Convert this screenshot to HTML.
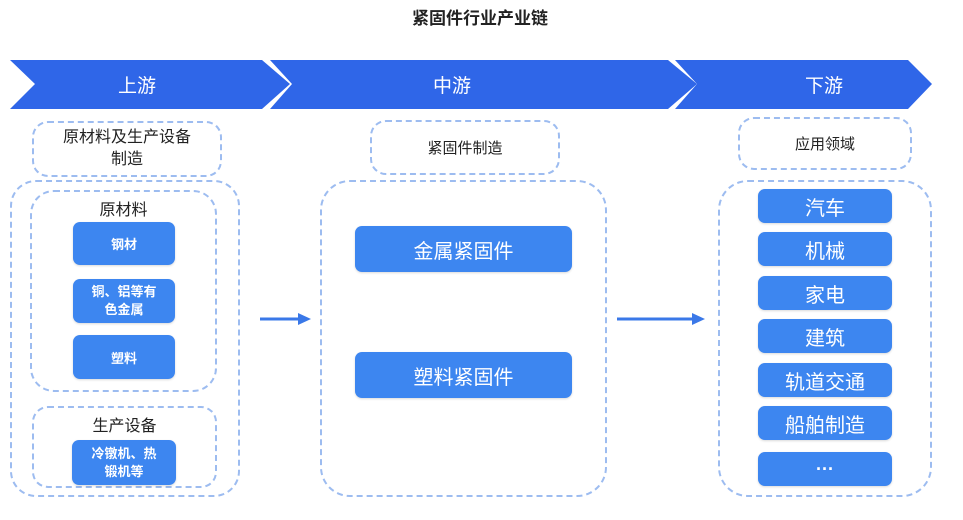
<!DOCTYPE html>
<html><head><meta charset="utf-8"><style>
body{margin:0;width:963px;height:520px;background:#fff;position:relative;overflow:hidden;font-family:"Liberation Sans","Noto Sans CJK SC",sans-serif}
.a{position:absolute;box-sizing:border-box}
.d{border:2px dashed #9dbcf0;border-radius:16px}
.b{background:#3d86f0;border-radius:7px;color:#fff;display:flex;align-items:center;justify-content:center;text-align:center;box-shadow:0 1px 2px rgba(0,0,0,.15)}
.t{display:flex;align-items:center;justify-content:center;text-align:center;color:#222}
</style></head><body>
<div class="a t" style="left:330px;top:2px;width:300px;height:28px;font-size:17px;font-weight:bold">紧固件行业产业链</div>
<svg class="a" style="left:0;top:0" width="963" height="520">
<polygon points="10,60 262,60 290,84 262,109 10,109 35,84" fill="#2f66e8"/>
<polygon points="270,60 668,60 697,84 668,109 270,109 292,84" fill="#2f66e8"/>
<polygon points="675,60 908,60 932,84 908,109 675,109 697,84" fill="#2f66e8"/>
<text x="118" y="92" fill="#fff" font-size="19" font-family="Liberation Sans,Noto Sans CJK SC,sans-serif">上游</text>
<text x="433" y="92" fill="#fff" font-size="19" font-family="Liberation Sans,Noto Sans CJK SC,sans-serif">中游</text>
<text x="805" y="92" fill="#fff" font-size="19" font-family="Liberation Sans,Noto Sans CJK SC,sans-serif">下游</text>
<line x1="260" y1="319" x2="300" y2="319" stroke="#3a78e8" stroke-width="3"/>
<polygon points="298,313 311,319 298,325" fill="#3a78e8"/>
<line x1="617" y1="319" x2="694" y2="319" stroke="#3a78e8" stroke-width="3"/>
<polygon points="692,313 705,319 692,325" fill="#3a78e8"/>
</svg>
<div class="a d t" style="left:32px;top:121px;width:190px;height:56px;font-size:16px;line-height:22px">原材料及生产设备<br>制造</div>
<div class="a d" style="left:10px;top:180px;width:230px;height:317px;border-radius:26px"></div>
<div class="a d" style="left:30px;top:190px;width:187px;height:202px;border-radius:24px"></div>
<div class="a t" style="left:30px;top:196px;width:187px;height:24px;font-size:16px">原材料</div>
<div class="a b" style="left:73px;top:222px;width:102px;height:43px;font-size:13px;font-weight:bold">钢材</div>
<div class="a b" style="left:73px;top:279px;width:102px;height:44px;font-size:13px;font-weight:bold;line-height:18px">铜、铝等有<br>色金属</div>
<div class="a b" style="left:73px;top:335px;width:102px;height:44px;font-size:13px;font-weight:bold">塑料</div>
<div class="a d" style="left:32px;top:406px;width:185px;height:82px"></div>
<div class="a t" style="left:32px;top:412px;width:185px;height:24px;font-size:16px">生产设备</div>
<div class="a b" style="left:72px;top:440px;width:104px;height:45px;font-size:13px;font-weight:bold;line-height:18px">冷镦机、热<br>锻机等</div>
<div class="a d t" style="left:370px;top:120px;width:190px;height:55px;font-size:15px">紧固件制造</div>
<div class="a d" style="left:320px;top:180px;width:287px;height:317px;border-radius:30px"></div>
<div class="a b" style="left:355px;top:226px;width:217px;height:46px;font-size:20px">金属紧固件</div>
<div class="a b" style="left:355px;top:352px;width:217px;height:46px;font-size:20px">塑料紧固件</div>
<div class="a d t" style="left:738px;top:117px;width:174px;height:53px;font-size:15px">应用领域</div>
<div class="a d" style="left:718px;top:180px;width:214px;height:317px;border-radius:30px"></div>
<div class="a b" style="left:758px;top:189px;width:134px;height:34px;font-size:20px">汽车</div>
<div class="a b" style="left:758px;top:232px;width:134px;height:34px;font-size:20px">机械</div>
<div class="a b" style="left:758px;top:276px;width:134px;height:34px;font-size:20px">家电</div>
<div class="a b" style="left:758px;top:319px;width:134px;height:34px;font-size:20px">建筑</div>
<div class="a b" style="left:758px;top:363px;width:134px;height:34px;font-size:20px">轨道交通</div>
<div class="a b" style="left:758px;top:406px;width:134px;height:34px;font-size:20px">船舶制造</div>
<div class="a b" style="left:758px;top:452px;width:134px;height:34px;font-size:18px;font-weight:bold">···</div>
</body></html>
